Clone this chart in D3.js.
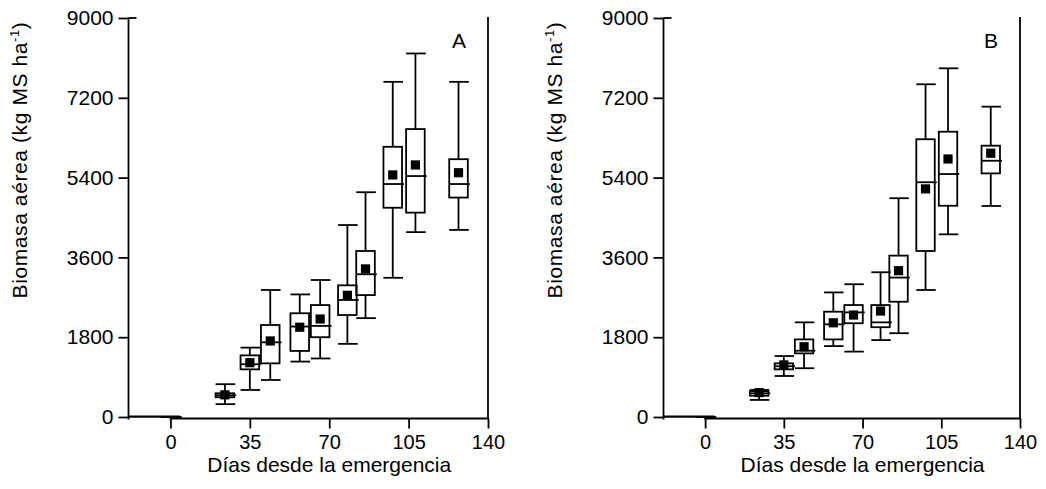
<!DOCTYPE html>
<html>
<head>
<meta charset="utf-8">
<script src="https://cdn.jsdelivr.net/npm/d3@7"></script>
<style>
  html, body { margin: 0; padding: 0; background: #fff; }
  svg { display: block; font-family: "Liberation Sans", Arial, sans-serif; }
</style>
</head>
<body>
<svg id="chart" width="1046" height="489"></svg>
<script>
// ---- data ----
const days = [0, 24, 35, 44, 57, 66, 78, 86, 98, 108, 127];
const xTicks = [0, 35, 70, 105, 140];
const yTicks = [0, 1800, 3600, 5400, 7200, 9000];
const panelLabels = ["A", "B"];

const A_min  = [0, 290, 610, 835, 1250, 1320, 1650, 2230, 3140, 4170, 4220];
const A_q1   = [0, 445, 1075, 1210, 1490, 1800, 2300, 2750, 4720, 4610, 4950];
const A_med  = [0, 490, 1190, 1685, 2040, 2055, 2640, 3220, 5255, 5435, 5255];
const A_q3   = [0, 535, 1390, 2075, 2340, 2525, 2970, 3745, 6095, 6495, 5815];
const A_max  = [0, 740, 1565, 2865, 2765, 3090, 4330, 5070, 7560, 8200, 7560];
const A_mean = [0, 500, 1225, 1715, 2025, 2210, 2745, 3340, 5460, 5685, 5510];

const B_min  = [0, 385, 925, 1100, 1600, 1475, 1735, 1890, 2865, 4120, 4760];
const B_q1   = [0, 480, 1075, 1435, 1750, 2115, 2025, 2600, 3745, 4765, 5495];
const B_med  = [0, 535, 1145, 1495, 2090, 2360, 2135, 3145, 5295, 5480, 5780];
const B_q3   = [0, 585, 1210, 1750, 2375, 2525, 2525, 3640, 6265, 6435, 6120];
const B_max  = [0, 610, 1375, 2135, 2810, 2995, 3265, 4935, 7505, 7865, 7000];
const B_mean = [0, 550, 1175, 1585, 2125, 2300, 2390, 3300, 5145, 5820, 5950];

const xTitle = "Días desde la emergencia";

// ---- layout ----
const svg = d3.select("#chart");
const SW = 1.8;
const FS = 21;
const TFS = 20;
const yTop = 18, yBot = 417;
const axisY = 418.5;
const boxDays = 8.2;

const panels = [
  { label: panelLabels[0], x0: 128.5, x1: 488, min: A_min, q1: A_q1, med: A_med, q3: A_q3, max: A_max, mean: A_mean },
  { label: panelLabels[1], x0: 663.5, x1: 1020, min: B_min, q1: B_q1, med: B_med, q3: B_q3, max: B_max, mean: B_mean }
];

panels.forEach(p => {
  const x = d3.scaleLinear().domain([-18.5, 140]).range([p.x0, p.x1]);
  const y = d3.scaleLinear().domain([0, 9000]).range([yBot, yTop]);
  const g = svg.append("g");
  const bw = x(boxDays) - x(0);

  // y axis
  const ya = g.append("g").attr("transform", `translate(${p.x0},0)`)
    .call(d3.axisLeft(y).tickValues(yTicks).tickSize(10).tickSizeOuter(0).tickPadding(5).tickFormat(d3.format("d")));
  ya.select(".domain").remove();
  ya.selectAll(".tick line").attr("stroke", "#000").attr("stroke-width", SW);
  ya.selectAll(".tick text").attr("font-size", FS).attr("fill", "#000").attr("font-family", "Liberation Sans, Arial, sans-serif");
  g.append("line").attr("x1", p.x0).attr("x2", p.x0).attr("y1", yTop - 0.5).attr("y2", axisY + 1)
    .attr("stroke", "#000").attr("stroke-width", SW);
  g.append("line").attr("x1", p.x0).attr("x2", p.x0 + 8).attr("y1", y(9000)).attr("y2", y(9000))
    .attr("stroke", "#000").attr("stroke-width", SW);

  // right border
  g.append("line").attr("x1", p.x1).attr("x2", p.x1).attr("y1", yTop - 1).attr("y2", axisY + 1)
    .attr("stroke", "#000").attr("stroke-width", SW);

  // x axis
  const xa = g.append("g").attr("transform", `translate(0,${axisY})`)
    .call(d3.axisBottom(x).tickValues(xTicks).tickSize(10).tickSizeOuter(0).tickPadding(6));
  xa.select(".domain").remove();
  xa.selectAll(".tick line").attr("stroke", "#000").attr("stroke-width", SW);
  xa.selectAll(".tick text").attr("font-size", TFS).attr("fill", "#000").attr("font-family", "Liberation Sans, Arial, sans-serif");
  g.append("line").attr("x1", x(0) - 0.9).attr("x2", p.x1).attr("y1", axisY).attr("y2", axisY)
    .attr("stroke", "#000").attr("stroke-width", SW);

  // zero segment from y axis to day 0
  g.append("line").attr("x1", p.x0).attr("x2", x(days[0]) + bw / 2).attr("y1", y(0) - 0.3).attr("y2", y(0) - 0.3)
    .attr("stroke", "#000").attr("stroke-width", 2.2);

  // boxes
  const data = days.map((d, i) => ({ d, min: p.min[i], q1: p.q1[i], med: p.med[i], q3: p.q3[i], max: p.max[i], mean: p.mean[i] }));
  const bg = g.append("g").attr("stroke", "#000").attr("stroke-width", SW).attr("fill", "none");
  data.forEach(b => {
    const cx = x(b.d);
    bg.append("line").attr("x1", cx).attr("x2", cx).attr("y1", y(b.max)).attr("y2", y(b.q3));
    bg.append("line").attr("x1", cx).attr("x2", cx).attr("y1", y(b.q1)).attr("y2", y(b.min));
    bg.append("line").attr("x1", cx - bw / 2).attr("x2", cx + bw / 2 + 1).attr("y1", y(b.max)).attr("y2", y(b.max));
    bg.append("line").attr("x1", cx - bw / 2).attr("x2", cx + bw / 2 + 1).attr("y1", y(b.min)).attr("y2", y(b.min));
    bg.append("rect").attr("x", cx - bw / 2).attr("y", y(b.q3)).attr("width", bw).attr("height", Math.max(0, y(b.q1) - y(b.q3)));
    bg.append("line").attr("x1", cx - bw / 2).attr("x2", cx + bw / 2 + 2).attr("y1", y(b.med)).attr("y2", y(b.med));
    if (b.mean > 0) {
      g.append("rect").attr("x", cx - 4.6).attr("y", y(b.mean) - 4.6).attr("width", 9.2).attr("height", 9.2).attr("fill", "#000");
    }
  });

  // panel letter
  g.append("text").attr("x", p.x1 - 29).attr("y", 48).attr("text-anchor", "middle")
    .attr("font-size", FS).attr("fill", "#000").text(p.label);

  // x title
  g.append("text").attr("x", (x(0) + x(140)) / 2).attr("y", 472).attr("text-anchor", "middle")
    .attr("font-size", FS).attr("fill", "#000").text(xTitle);

  // y title
  const yt = g.append("text").attr("transform", `translate(${p.x0 - 101.5},160) rotate(-90)`)
    .attr("text-anchor", "middle").attr("font-size", FS).attr("letter-spacing", 0.6).attr("fill", "#000");
  yt.append("tspan").text("Biomasa aérea (kg MS ha");
  yt.append("tspan").attr("font-size", 13).attr("dy", -8).text("-1");
  yt.append("tspan").attr("dy", 8).text(")");
});
</script>
</body>
</html>
